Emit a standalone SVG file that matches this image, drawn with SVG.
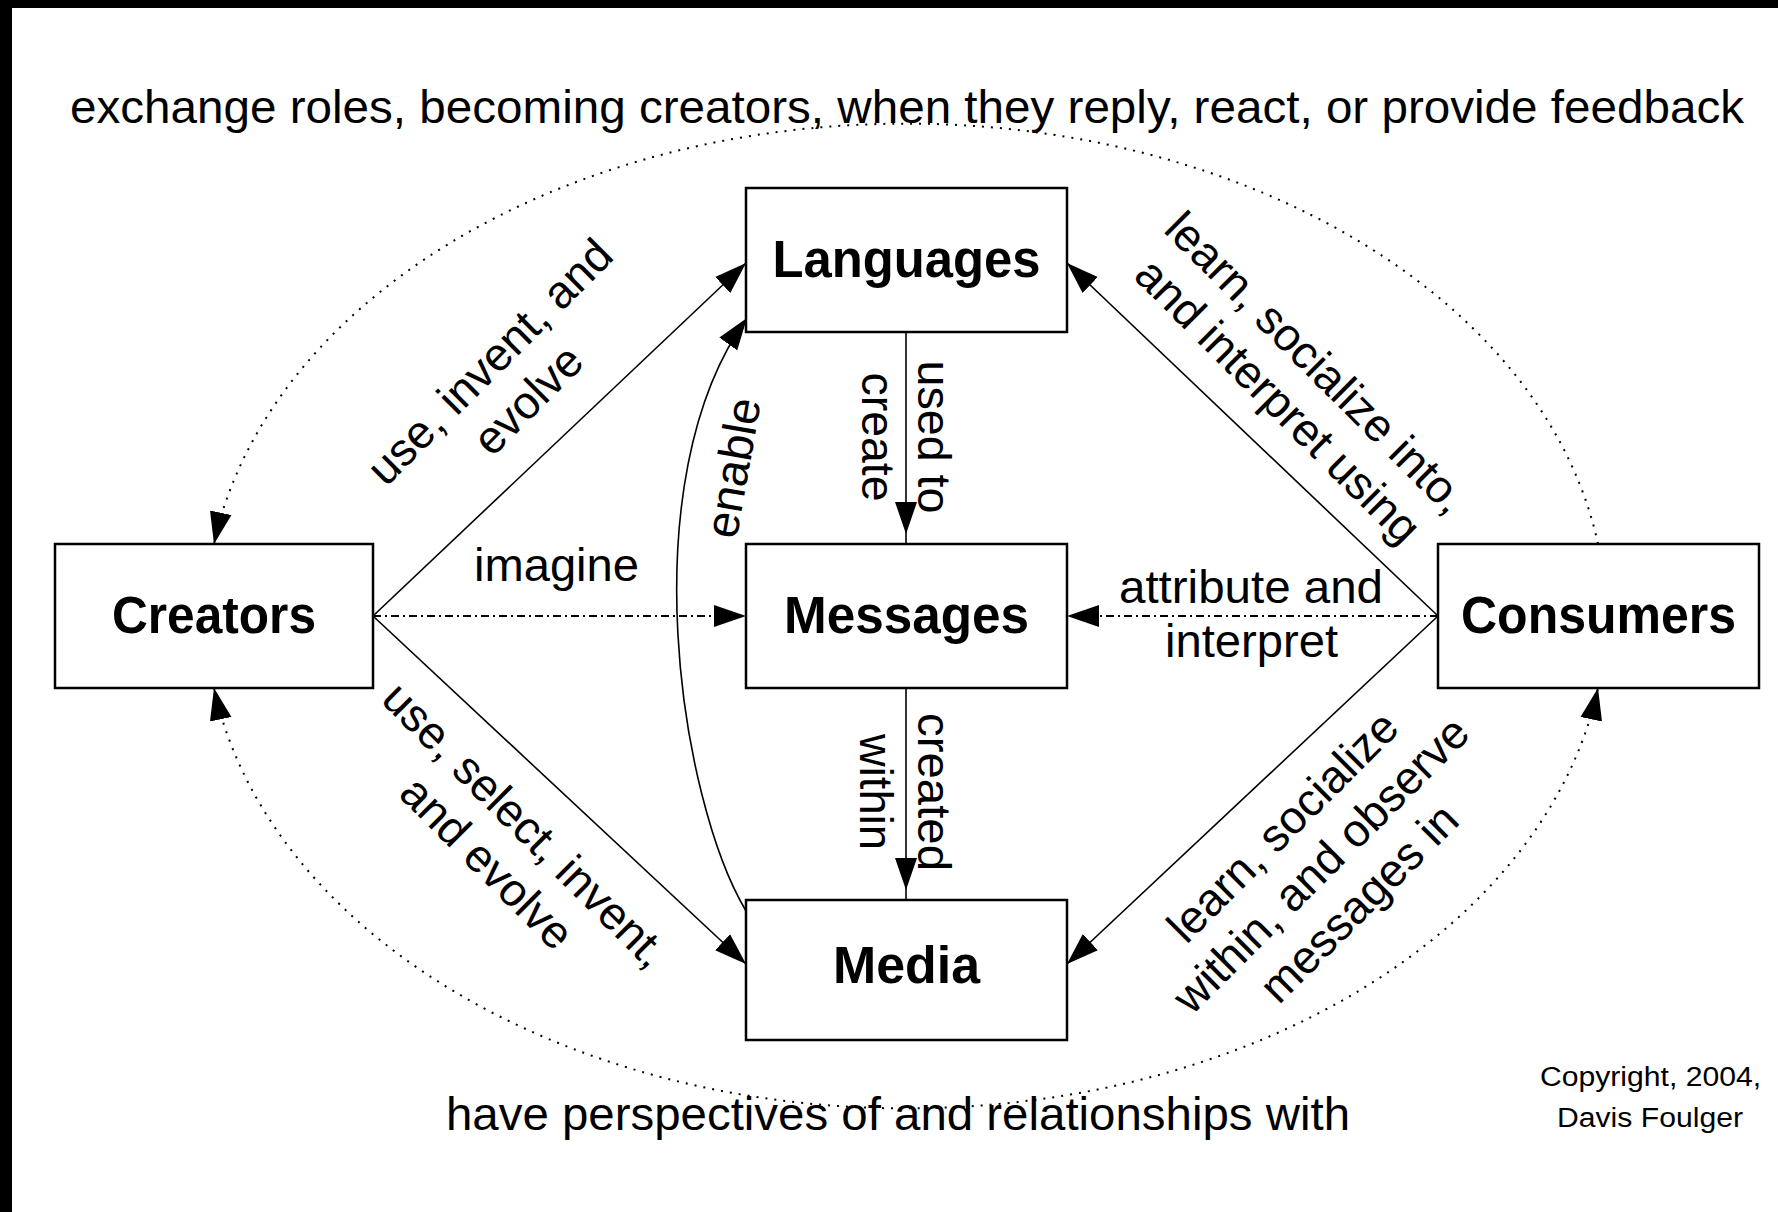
<svg xmlns="http://www.w3.org/2000/svg" width="1778" height="1212" viewBox="0 0 1778 1212">
  <defs>
    <style>
      .box{fill:#fff;stroke:#000;stroke-width:2.5}
      .node{font-family:"Liberation Sans",Arial,sans-serif;font-weight:bold;font-size:51px;text-anchor:middle;fill:#000}
      .lbl{font-family:"Liberation Sans",Arial,sans-serif;font-size:47px;fill:#000}
      .dlbl{font-family:"Liberation Sans",Arial,sans-serif;font-size:46px;fill:#000;text-anchor:middle}
      .mid{text-anchor:middle}
      .note{font-family:"Liberation Sans",Arial,sans-serif;font-size:27px;fill:#000}
      .edge{fill:none;stroke:#000;stroke-width:1.6}
      .dash{stroke-dasharray:8 4 2 4;stroke-width:1.8}
      .dot{stroke-dasharray:2 7;stroke-width:2}
    </style>
    <!-- filled head, tip on the end point -->
    <marker id="arrow" markerUnits="userSpaceOnUse" markerWidth="34" markerHeight="24" viewBox="0 0 34 24" refX="32" refY="12" orient="auto">
      <path d="M0,1 L32,12 L0,23 z" fill="#000"/>
    </marker>
    <!-- filled head, tip set back from the end point -->
    <marker id="arrowGap" markerUnits="userSpaceOnUse" markerWidth="44" markerHeight="24" viewBox="0 0 44 24" refX="42" refY="12" orient="auto">
      <path d="M0,1 L32,12 L0,23 z" fill="#000"/>
    </marker>
    <marker id="arrowBoth" markerUnits="userSpaceOnUse" markerWidth="34" markerHeight="24" viewBox="0 0 34 24" refX="32" refY="12" orient="auto-start-reverse">
      <path d="M0,1 L32,12 L0,23 z" fill="#000"/>
    </marker>
  </defs>

  <!-- frame -->
  <rect width="1778" height="1212" fill="#000"/>
  <rect x="12" y="8" width="1766" height="1204" fill="#fff"/>

  <!-- connectors -->
  <g id="connectors">
    <g id="roles-exchange">
      <path class="edge dot" d="M1598,544 A700,495 0 0 0 214,544" marker-end="url(#arrow)"/>
      <text class="lbl" x="70" y="123" textLength="1674" lengthAdjust="spacingAndGlyphs">exchange roles, becoming creators, when they reply, react, or provide feedback</text>
    </g>
    <g id="perspectives">
      <path class="edge dot" d="M214,688 A700,495 0 0 0 1598,688" marker-start="url(#arrowBoth)" marker-end="url(#arrowBoth)"/>
      <text class="lbl" x="446" y="1130" textLength="904" lengthAdjust="spacingAndGlyphs">have perspectives of and relationships with</text>
    </g>

    <g id="creators-languages">
      <path class="edge" d="M373,616 L746,263" marker-end="url(#arrow)"/>
      <g transform="translate(510,382) rotate(-45)">
        <text class="dlbl" x="0" y="-13">use, invent, and</text>
        <text class="dlbl" x="0" y="41">evolve</text>
      </g>
    </g>
    <g id="creators-messages">
      <path class="edge dash" d="M373,616 L746,616" marker-end="url(#arrow)"/>
      <text class="lbl" x="474" y="581" textLength="165" lengthAdjust="spacingAndGlyphs">imagine</text>
    </g>
    <g id="creators-media">
      <path class="edge" d="M373,616 L746,964" marker-end="url(#arrow)"/>
      <g transform="translate(505,845) rotate(45)">
        <text class="dlbl" x="0" y="-13">use, select, invent,</text>
        <text class="dlbl" x="0" y="41">and evolve</text>
      </g>
    </g>
    <g id="languages-messages">
      <path class="edge" d="M906,332 L906,544" marker-end="url(#arrowGap)"/>
      <g transform="translate(918,437) rotate(90)">
        <text class="lbl mid" x="0" y="0" textLength="153" lengthAdjust="spacingAndGlyphs">used to</text>
        <text class="lbl mid" x="0" y="56" textLength="129" lengthAdjust="spacingAndGlyphs">create</text>
      </g>
    </g>
    <g id="messages-media">
      <path class="edge" d="M906,688 L906,900" marker-end="url(#arrowGap)"/>
      <g transform="translate(918,792) rotate(90)">
        <text class="lbl mid" x="0" y="0" textLength="158" lengthAdjust="spacingAndGlyphs">created</text>
        <text class="lbl mid" x="0" y="58" textLength="116" lengthAdjust="spacingAndGlyphs">within</text>
      </g>
    </g>
    <g id="media-languages">
      <path class="edge" d="M746,911 C680,800 630,480 747,318" marker-end="url(#arrow)"/>
      <g transform="translate(735,468) rotate(-80)">
        <text class="lbl mid" x="0" y="14">enable</text>
      </g>
    </g>
    <g id="consumers-languages">
      <path class="edge" d="M1438,616 L1067,263" marker-end="url(#arrow)"/>
      <g transform="translate(1296,383) rotate(45)">
        <text class="dlbl" x="0" y="-13">learn, socialize into,</text>
        <text class="dlbl" x="0" y="41">and interpret using</text>
      </g>
    </g>
    <g id="consumers-messages">
      <path class="edge dash" d="M1438,616 L1067,616" marker-end="url(#arrow)"/>
      <text class="lbl" x="1119" y="603" textLength="264" lengthAdjust="spacingAndGlyphs">attribute and</text>
      <text class="lbl" x="1165" y="657" textLength="173" lengthAdjust="spacingAndGlyphs">interpret</text>
    </g>
    <g id="consumers-media">
      <path class="edge" d="M1438,616 L1067,964" marker-end="url(#arrow)"/>
      <g transform="translate(1322,866) rotate(-45)">
        <text class="dlbl" x="0" y="-40">learn, socialize</text>
        <text class="dlbl" x="0" y="14">within, and observe</text>
        <text class="dlbl" x="0" y="68">messages in</text>
      </g>
    </g>
  </g>

  <!-- nodes -->
  <g id="creators">
    <rect class="box" x="55" y="544" width="318" height="144"/>
    <text class="node" x="214" y="633" textLength="204" lengthAdjust="spacingAndGlyphs">Creators</text>
  </g>
  <g id="languages">
    <rect class="box" x="746" y="188" width="321" height="144"/>
    <text class="node" x="906.5" y="277" textLength="268" lengthAdjust="spacingAndGlyphs">Languages</text>
  </g>
  <g id="messages">
    <rect class="box" x="746" y="544" width="321" height="144"/>
    <text class="node" x="906.5" y="633" textLength="245" lengthAdjust="spacingAndGlyphs">Messages</text>
  </g>
  <g id="media">
    <rect class="box" x="746" y="900" width="321" height="140"/>
    <text class="node" x="906.5" y="983" textLength="147" lengthAdjust="spacingAndGlyphs">Media</text>
  </g>
  <g id="consumers">
    <rect class="box" x="1438" y="544" width="321" height="144"/>
    <text class="node" x="1598.5" y="633" textLength="275" lengthAdjust="spacingAndGlyphs">Consumers</text>
  </g>

  <!-- credit -->
  <text class="note" x="1540" y="1086" textLength="221" lengthAdjust="spacingAndGlyphs">Copyright, 2004,</text>
  <text class="note" x="1557" y="1127" textLength="186" lengthAdjust="spacingAndGlyphs">Davis Foulger</text>
</svg>
